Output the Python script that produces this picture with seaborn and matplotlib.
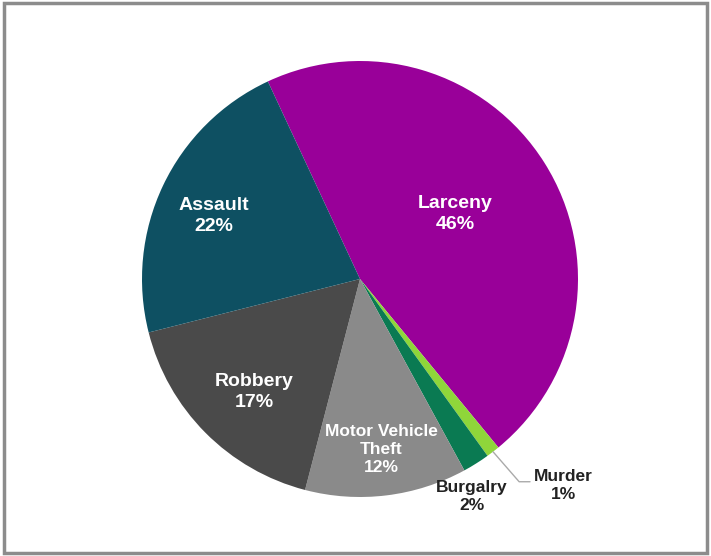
import numpy as np
import matplotlib
matplotlib.use("Agg")
import matplotlib.pyplot as plt
import seaborn as sns
from matplotlib.patches import Rectangle

sns.set_theme(style="white")
plt.rcParams['font.family'] = ['Liberation Sans', 'DejaVu Sans']

# ---- data ----
categories = ["Larceny", "Murder", "Burgalry", "Motor Vehicle\nTheft", "Robbery", "Assault"]
percents = [46, 1, 2, 12, 17, 22]
colors = ["#990099", "#8fd63a", "#0a7a52", "#8a8a8a", "#4a4a4a", "#0e5062"]

# ---- layout (label placement) ----
label_dist = [0.53, 1.33, 1.12, 0.79, 0.71, 0.73]
label_ang_off = [2, 7, -5, 0, 2, 2]
label_size = [14, 12.5, 12.5, 12.5, 14, 14]
label_color = ["white", "#222222", "#222222", "white", "white", "white"]

W, H = 711, 556
fig = plt.figure(figsize=(W / 100, H / 100), dpi=100)
cx, cy, R = 360, 279, 218
half = 1.25 * R
ax = fig.add_axes([(cx - half) / W, (H - cy - half) / H, 2 * half / W, 2 * half / H])

wedges, _ = ax.pie(percents, colors=colors, startangle=115, counterclock=False,
                   wedgeprops=dict(linewidth=0))
ax.set_xlim(-1.25, 1.25)
ax.set_ylim(-1.25, 1.25)

for i, w in enumerate(wedges):
    mid = np.deg2rad((w.theta1 + w.theta2) / 2 + label_ang_off[i])
    x, y = label_dist[i] * np.cos(mid), label_dist[i] * np.sin(mid)
    txt = f"{categories[i]}\n{percents[i]}%"
    ls = 1.3 if label_size[i] >= 14 else 1.25
    ax.text(x, y, txt, ha="center", va="center", fontsize=label_size[i],
            fontweight="bold", color=label_color[i], linespacing=ls)
    if categories[i] == "Murder":
        amid = np.deg2rad((w.theta1 + w.theta2) / 2)
        p0 = (np.cos(amid), np.sin(amid))
        # leader line to label
        ax.plot([p0[0], 0.73, 0.78], [p0[1], -0.93, -0.93], color="#aaaaaa", lw=1)

# outer frame
fig.patches.append(Rectangle((4 / W, 3 / H), (W - 8) / W, (H - 6) / H,
                             transform=fig.transFigure, fill=False,
                             edgecolor="#8c8c8c", linewidth=2.5))

fig.savefig("out.png", dpi=100)
